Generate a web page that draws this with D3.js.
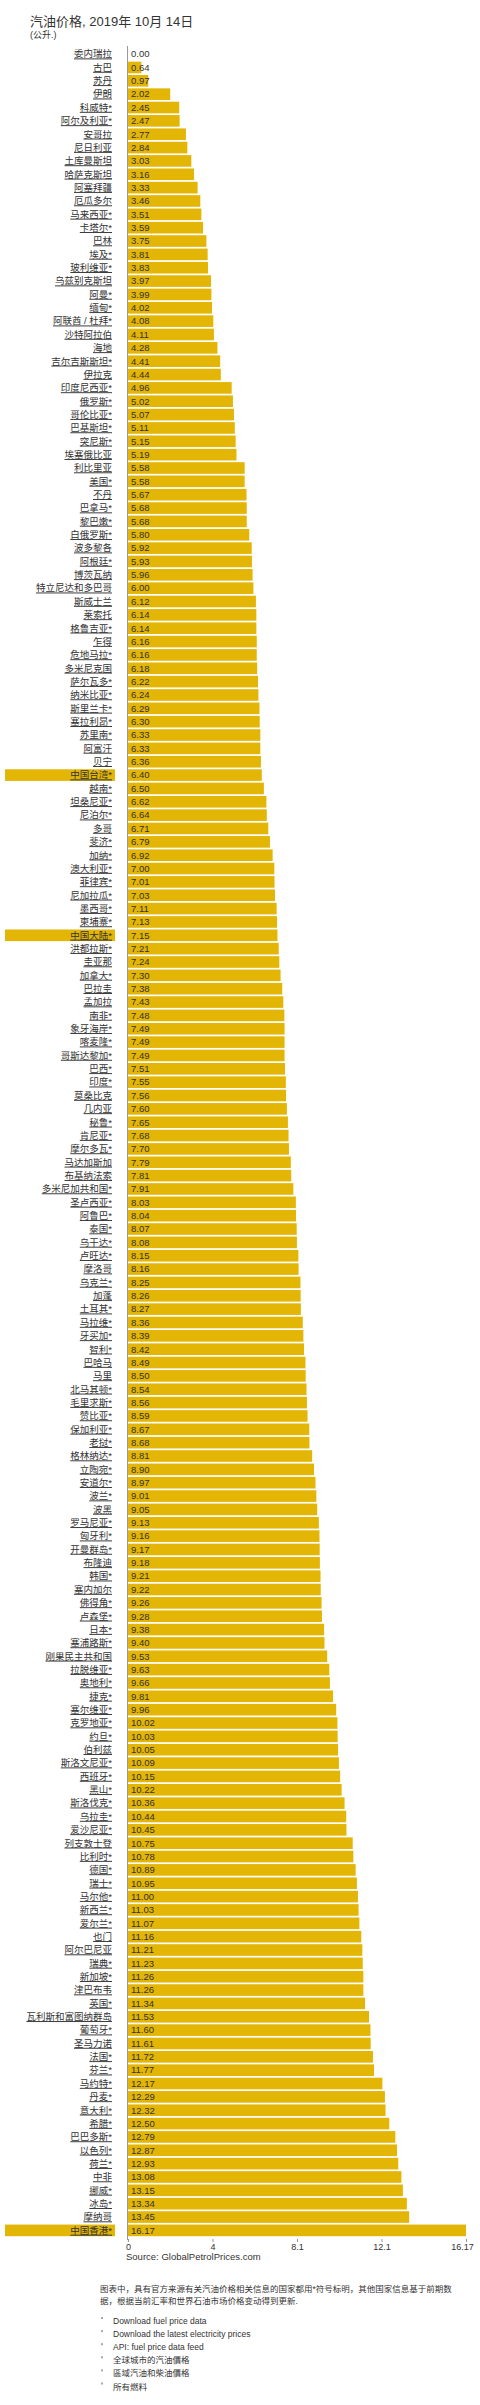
<!DOCTYPE html>
<html lang="zh">
<head>
  <meta charset="UTF-8">
  <title>汽油价格, 2019年 10月 14日</title>
  <script src="https://cdnjs.cloudflare.com/ajax/libs/d3/7.8.5/d3.min.js"></script>
  <style>
    body {
      margin: 0;
      background: white;
    }
    svg {
      display: block;
      font-family: "Liberation Sans", "Noto Sans CJK SC", sans-serif;
    }
    .label {
      text-decoration: underline;
    }
  </style>
</head>
<body>
  <script>
    var countries = [
      "委内瑞拉", "古巴", "苏丹", "伊朗", "科威特*", "阿尔及利亚*", "安哥拉", "尼日利亚",
      "土库曼斯坦", "哈萨克斯坦", "阿塞拜疆", "厄瓜多尔", "马来西亚*", "卡塔尔*", "巴林", "埃及*",
      "玻利维亚*", "乌兹别克斯坦", "阿曼*", "缅甸*", "阿联酋 / 杜拜*", "沙特阿拉伯", "海地", "吉尔吉斯斯坦*",
      "伊拉克", "印度尼西亚*", "俄罗斯*", "哥伦比亚*", "巴基斯坦*", "突尼斯*", "埃塞俄比亚", "利比里亚",
      "美国*", "不丹", "巴拿马*", "黎巴嫩*", "白俄罗斯*", "波多黎各", "阿根廷*", "博茨瓦纳",
      "特立尼达和多巴哥", "斯威士兰", "莱索托", "格鲁吉亚*", "乍得", "危地马拉*", "多米尼克国", "萨尔瓦多*",
      "纳米比亚*", "斯里兰卡*", "塞拉利昂*", "苏里南*", "阿富汗", "贝宁", "中国台湾*", "越南*",
      "坦桑尼亚*", "尼泊尔*", "多哥", "斐济*", "加纳*", "澳大利亚*", "菲律宾*", "尼加拉瓜*",
      "墨西哥*", "柬埔寨*", "中国大陆*", "洪都拉斯*", "圭亚那", "加拿大*", "巴拉圭", "孟加拉",
      "南非*", "象牙海岸*", "喀麦隆*", "哥斯达黎加*", "巴西*", "印度*", "莫桑比克", "几内亚",
      "秘鲁*", "肯尼亚*", "摩尔多瓦*", "马达加斯加", "布基纳法索", "多米尼加共和国*", "圣卢西亚*", "阿鲁巴*",
      "泰国*", "乌干达*", "卢旺达*", "摩洛哥", "乌克兰*", "加蓬", "土耳其*", "马拉维*",
      "牙买加*", "智利*", "巴哈马", "马里", "北马其顿*", "毛里求斯*", "赞比亚*", "保加利亚*",
      "老挝*", "格林纳达*", "立陶宛*", "安道尔*", "波兰*", "波黑", "罗马尼亚*", "匈牙利*",
      "开曼群岛*", "布隆迪", "韩国*", "塞内加尔", "佛得角*", "卢森堡*", "日本*", "塞浦路斯*",
      "刚果民主共和国", "拉脱维亚*", "奥地利*", "捷克*", "塞尔维亚*", "克罗地亚*", "约旦*", "伯利兹",
      "斯洛文尼亚*", "西班牙*", "黑山*", "斯洛伐克*", "乌拉圭*", "爱沙尼亚*", "列支敦士登", "比利时*",
      "德国*", "瑞士*", "马尔他*", "新西兰*", "爱尔兰*", "也门", "阿尔巴尼亚", "瑞典*",
      "新加坡*", "津巴布韦", "英国*", "瓦利斯和富图纳群岛", "葡萄牙*", "圣马力诺", "法国*", "芬兰*",
      "马约特*", "丹麦*", "意大利*", "希腊*", "巴巴多斯*", "以色列*", "荷兰*", "中非",
      "挪威*", "冰岛*", "摩纳哥", "中国香港*"
    ];

    var prices = [
      0.00, 0.64, 0.97, 2.02, 2.45, 2.47, 2.77, 2.84,
      3.03, 3.16, 3.33, 3.46, 3.51, 3.59, 3.75, 3.81,
      3.83, 3.97, 3.99, 4.02, 4.08, 4.11, 4.28, 4.41,
      4.44, 4.96, 5.02, 5.07, 5.11, 5.15, 5.19, 5.58,
      5.58, 5.67, 5.68, 5.68, 5.80, 5.92, 5.93, 5.96,
      6.00, 6.12, 6.14, 6.14, 6.16, 6.16, 6.18, 6.22,
      6.24, 6.29, 6.30, 6.33, 6.33, 6.36, 6.40, 6.50,
      6.62, 6.64, 6.71, 6.79, 6.92, 7.00, 7.01, 7.03,
      7.11, 7.13, 7.15, 7.21, 7.24, 7.30, 7.38, 7.43,
      7.48, 7.49, 7.49, 7.49, 7.51, 7.55, 7.56, 7.60,
      7.65, 7.68, 7.70, 7.79, 7.81, 7.91, 8.03, 8.04,
      8.07, 8.08, 8.15, 8.16, 8.25, 8.26, 8.27, 8.36,
      8.39, 8.42, 8.49, 8.50, 8.54, 8.56, 8.59, 8.67,
      8.68, 8.81, 8.90, 8.97, 9.01, 9.05, 9.13, 9.16,
      9.17, 9.18, 9.21, 9.22, 9.26, 9.28, 9.38, 9.40,
      9.53, 9.63, 9.66, 9.81, 9.96, 10.02, 10.03, 10.05,
      10.09, 10.15, 10.22, 10.36, 10.44, 10.45, 10.75, 10.78,
      10.89, 10.95, 11.00, 11.03, 11.07, 11.16, 11.21, 11.23,
      11.26, 11.26, 11.34, 11.53, 11.60, 11.61, 11.72, 11.77,
      12.17, 12.29, 12.32, 12.50, 12.79, 12.87, 12.93, 13.08,
      13.15, 13.34, 13.45, 16.17
    ];

    var highlighted = ["中国台湾*", "中国大陆*", "中国香港*"];

    var tickValues = [0, 4.0425, 8.085, 12.1275, 16.17];
    var tickLabels = ["0", "4", "8.1", "12.1", "16.17"];

    var links = [
      "Download fuel price data",
      "Download the latest electricity prices",
      "API: fuel price data feed",
      "全球城市的汽油價格",
      "區域汽油和柴油價格",
      "所有燃料"
    ];

    var note = [
      "图表中，具有官方来源有关汽油价格相关信息的国家都用*符号标明，其他国家信息基于前期数",
      "据，根据当前汇率和世界石油市场价格变动得到更新."
    ];

    var w = 480;
    var h = 2405;
    var barColor = "#e3b505";
    var textColor = "#333";

    var data = countries.map(function(c, i) {
      return { name: c, value: prices[i] };
    });

    var svg = d3.select("body").append("svg")
      .attr("width", w)
      .attr("height", h);

    svg.append("text")
      .attr("x", 30)
      .attr("y", 26)
      .attr("font-size", 13)
      .attr("fill", textColor)
      .text("汽油价格, 2019年 10月 14日");

    svg.append("text")
      .attr("x", 30)
      .attr("y", 38)
      .attr("font-size", 9)
      .attr("fill", textColor)
      .text("(公升.)");

    var xScale = d3.scaleLinear()
      .domain([0, 16.17])
      .range([128, 466]);

    var yScale = d3.scaleBand()
      .domain(countries)
      .range([47.5, 2237])
      .paddingInner(0.13)
      .paddingOuter(0.06);

    // highlight behind the China labels
    svg.selectAll("rect.hl")
      .data(data.filter(function(d) {
        return highlighted.indexOf(d.name) >= 0;
      }))
      .enter()
      .append("rect")
      .attr("class", "hl")
      .attr("x", 5)
      .attr("y", function(d) {
        return yScale(d.name);
      })
      .attr("width", 110)
      .attr("height", yScale.bandwidth())
      .attr("fill", barColor);

    svg.selectAll("rect.bar")
      .data(data)
      .enter()
      .append("rect")
      .attr("class", "bar")
      .attr("x", xScale(0))
      .attr("y", function(d) {
        return yScale(d.name);
      })
      .attr("width", function(d) {
        return xScale(d.value) - xScale(0);
      })
      .attr("height", yScale.bandwidth())
      .attr("fill", barColor);

    svg.selectAll("text.label")
      .data(data)
      .enter()
      .append("text")
      .attr("class", "label")
      .attr("x", 112)
      .attr("y", function(d) {
        return yScale(d.name) + yScale.bandwidth() / 2;
      })
      .attr("dy", "0.35em")
      .attr("text-anchor", "end")
      .attr("font-size", 9.5)
      .attr("fill", textColor)
      .text(function(d) {
        return d.name;
      });

    svg.selectAll("text.value")
      .data(data)
      .enter()
      .append("text")
      .attr("class", "value")
      .attr("x", xScale(0) + 3)
      .attr("y", function(d) {
        return yScale(d.name) + yScale.bandwidth() / 2;
      })
      .attr("dy", "0.35em")
      .attr("font-size", 9.5)
      .attr("fill", textColor)
      .text(function(d) {
        return d.value.toFixed(2);
      });

    // vertical axis line
    svg.append("line")
      .attr("x1", xScale(0) - 0.5)
      .attr("x2", xScale(0) - 0.5)
      .attr("y1", 46)
      .attr("y2", 2240)
      .attr("stroke", "#999")
      .attr("stroke-width", 1);

    var xAxis = d3.axisBottom()
      .scale(xScale)
      .tickValues(tickValues)
      .tickSize(3)
      .tickFormat(function(d, i) {
        return tickLabels[i];
      });

    var axisG = svg.append("g")
      .attr("transform", "translate(0, 2239)")
      .call(xAxis);
    axisG.select(".domain").remove();
    axisG.selectAll("line").attr("stroke", "#999");
    axisG.selectAll("text")
      .attr("font-family", "Liberation Sans, sans-serif")
      .attr("font-size", 9)
      .attr("fill", textColor)
      .attr("dy", "0.5em");
    axisG.selectAll(".tick:last-of-type text").attr("text-anchor", "end").attr("dx", "0.8em");

    svg.append("text")
      .attr("x", 126)
      .attr("y", 2260)
      .attr("font-size", 9.5)
      .attr("fill", textColor)
      .text("Source: GlobalPetrolPrices.com");

    svg.selectAll("text.note")
      .data(note)
      .enter()
      .append("text")
      .attr("class", "note")
      .attr("x", 100)
      .attr("y", function(d, i) {
        return 2292 + i * 12;
      })
      .attr("font-size", 8.5)
      .attr("fill", textColor)
      .text(function(d) {
        return d;
      });

    svg.selectAll("rect.bullet")
      .data(links)
      .enter()
      .append("rect")
      .attr("class", "bullet")
      .attr("x", 101)
      .attr("y", function(d, i) {
        return 2317 + i * 13.1;
      })
      .attr("width", 2)
      .attr("height", 2)
      .attr("fill", "#aaa");

    svg.selectAll("text.link")
      .data(links)
      .enter()
      .append("text")
      .attr("class", "link")
      .attr("x", 113)
      .attr("y", function(d, i) {
        return 2324 + i * 13.1;
      })
      .attr("font-size", 8.5)
      .attr("fill", textColor)
      .text(function(d) {
        return d;
      });
  </script>
</body>
</html>
